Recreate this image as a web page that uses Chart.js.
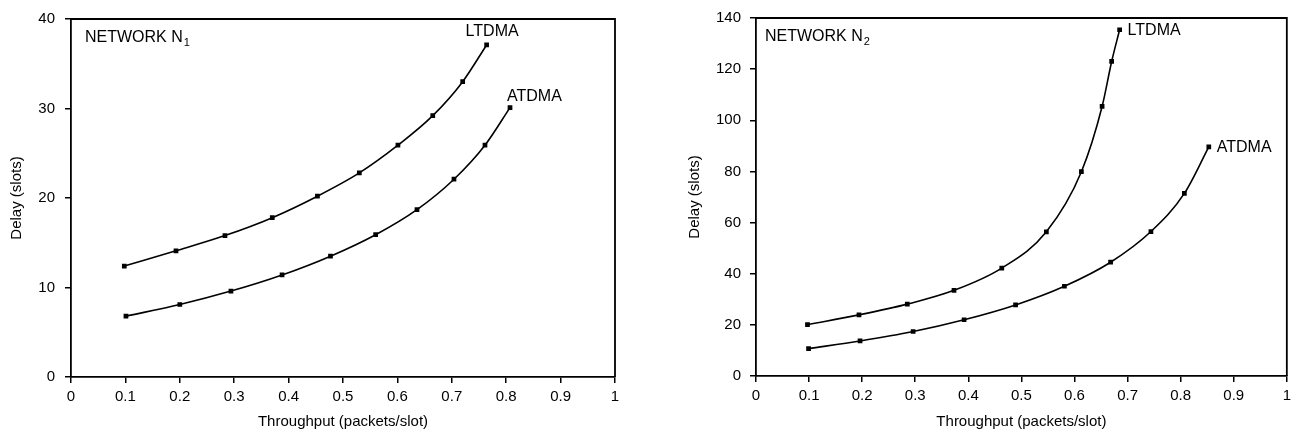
<!DOCTYPE html>
<html>
<head>
<meta charset="utf-8">
<script src="https://cdn.jsdelivr.net/npm/chart.js@4.4.1/dist/chart.umd.min.js"></script>
<style>
  body { margin: 0; background: #fff; }
  .box { position: absolute; top: 0; height: 433px; }
</style>
</head>
<body>
<div class="box" style="left:0;width:640px"><canvas id="chartN1"></canvas></div>
<div class="box" style="left:685px;width:611px"><canvas id="chartN2"></canvas></div>
<script>
// values
const n1LtdmaX = [0.098, 0.193, 0.283, 0.370, 0.453, 0.530, 0.601, 0.665, 0.720, 0.764];
const n1LtdmaY = [12.4, 14.1, 15.8, 17.8, 20.2, 22.8, 25.9, 29.2, 33.0, 37.1];
const n1AtdmaX = [0.101, 0.200, 0.294, 0.388, 0.477, 0.560, 0.636, 0.704, 0.761, 0.807];
const n1AtdmaY = [6.8, 8.1, 9.6, 11.4, 13.5, 15.9, 18.7, 22.1, 25.9, 30.1];

const n2LtdmaX = [0.097, 0.194, 0.285, 0.373, 0.463, 0.547, 0.613, 0.652, 0.670, 0.685];
const n2LtdmaY = [20.1, 23.9, 28.1, 33.5, 42.2, 56.4, 79.9, 105.4, 123.0, 135.4];
const n2AtdmaX = [0.099, 0.196, 0.296, 0.392, 0.489, 0.581, 0.668, 0.744, 0.807, 0.853];
const n2AtdmaY = [10.7, 13.7, 17.4, 22.0, 27.8, 35.1, 44.5, 56.5, 71.4, 89.6];

const seriesNames = ['LTDMA', 'ATDMA'];
const xTitle = 'Throughput (packets/slot)';
const yTitle = 'Delay (slots)';

const FONT = "'Liberation Sans', Arial, Helvetica, sans-serif";
Chart.defaults.color = '#000';
Chart.defaults.font.family = FONT;

const pts = (xs, ys) => xs.map((x, i) => ({ x, y: ys[i] }));

// frame on top + right, since the scales only give left/bottom
const framePlugin = {
    id: 'frame',
    afterDraw(chart) {
        const { ctx, chartArea: a } = chart;
        ctx.save();
        ctx.strokeStyle = '#000';
        ctx.lineWidth = 1.8;
        ctx.beginPath();
        ctx.moveTo(a.left, a.top);
        ctx.lineTo(a.right, a.top);
        ctx.lineTo(a.right, a.bottom);
        ctx.stroke();
        ctx.restore();
    }
};

// "NETWORK N<sub>" plus series names beside the last points
const notesPlugin = {
    id: 'notes',
    afterDraw(chart, args, opts) {
        const { ctx, chartArea: a } = chart;
        ctx.save();
        ctx.fillStyle = '#000';
        ctx.textBaseline = 'middle';
        ctx.font = '16px ' + FONT;
        ctx.textAlign = 'left';
        const tx = a.left + opts.netDx;
        const ty = a.top + 19;
        ctx.fillText(opts.net, tx, ty);
        const w = ctx.measureText(opts.net).width;
        ctx.font = '11px ' + FONT;
        ctx.fillText(opts.sub, tx + w + 1, ty + 5);

        ctx.font = '16px ' + FONT;
        opts.labels.forEach(l => {
            const meta = chart.getDatasetMeta(l.ds);
            const last = meta.data[meta.data.length - 1];
            ctx.textAlign = 'left';
            ctx.fillText(seriesNames[l.ds], last.x + l.dx, last.y + l.dy);
        });
        ctx.restore();
    }
};

function makeChart(id, ltdma, atdma, yMax, yStep, opts) {
    const ds = (data) => ({
        data,
        borderColor: '#000',
        backgroundColor: '#000',
        borderWidth: 1.6,
        pointStyle: 'rect',
        pointRadius: 2.2,
        pointHoverRadius: 2.2,
        cubicInterpolationMode: 'monotone'
    });
    return new Chart(document.getElementById(id), {
        type: 'line',
        data: { datasets: [ds(ltdma), ds(atdma)] },
        options: {
            responsive: true,
            maintainAspectRatio: false,
            animation: false,
            layout: { padding: { top: opts.top, right: opts.right, left: 0, bottom: 0 } },
            plugins: {
                legend: { display: false },
                tooltip: { enabled: false },
                notes: opts.notes
            },
            scales: {
                x: {
                    type: 'linear',
                    min: 0, max: 1,
                    afterFit: s => { s.height = opts.xh; },
                    ticks: { stepSize: 0.1, padding: 5, font: { size: 15 },
                        callback: v => String(+v.toFixed(1)) },
                    grid: { display: true, drawOnChartArea: false, drawTicks: true,
                        tickLength: 6, color: '#000', lineWidth: 1.5 },
                    border: { display: true, color: '#000', width: 1.8 },
                    title: { display: true, text: xTitle, font: { size: 15 },
                        padding: { top: 0, bottom: 2 } }
                },
                y: {
                    min: 0, max: yMax,
                    afterFit: s => { s.width = 71; },
                    ticks: { stepSize: yStep, padding: opts.yPad, font: { size: 15 } },
                    grid: { display: true, drawOnChartArea: false, drawTicks: true,
                        tickLength: 6, color: '#000', lineWidth: 1.5 },
                    border: { display: true, color: '#000', width: 1.8 },
                    title: { display: true, text: yTitle, font: { size: 15 },
                        padding: { top: opts.titlePad, bottom: 0 } }
                }
            }
        },
        plugins: [framePlugin, notesPlugin]
    });
}

makeChart('chartN1', pts(n1LtdmaX, n1LtdmaY), pts(n1AtdmaX, n1AtdmaY), 40, 10, {
    top: 18, right: 25, xh: 56, yPad: 10, titlePad: 8,
    notes: { net: 'NETWORK N', sub: '1', netDx: 14,
        labels: [ { ds: 0, dx: -21, dy: -13 }, { ds: 1, dx: -3, dy: -11 } ] }
});

makeChart('chartN2', pts(n2LtdmaX, n2LtdmaY), pts(n2AtdmaX, n2AtdmaY), 140, 20, {
    top: 17, right: 2, xh: 57, yPad: 9, titlePad: 1,
    notes: { net: 'NETWORK N', sub: '2', netDx: 9,
        labels: [ { ds: 0, dx: 8, dy: 1 }, { ds: 1, dx: 8, dy: 1 } ] }
});
</script>
</body>
</html>
